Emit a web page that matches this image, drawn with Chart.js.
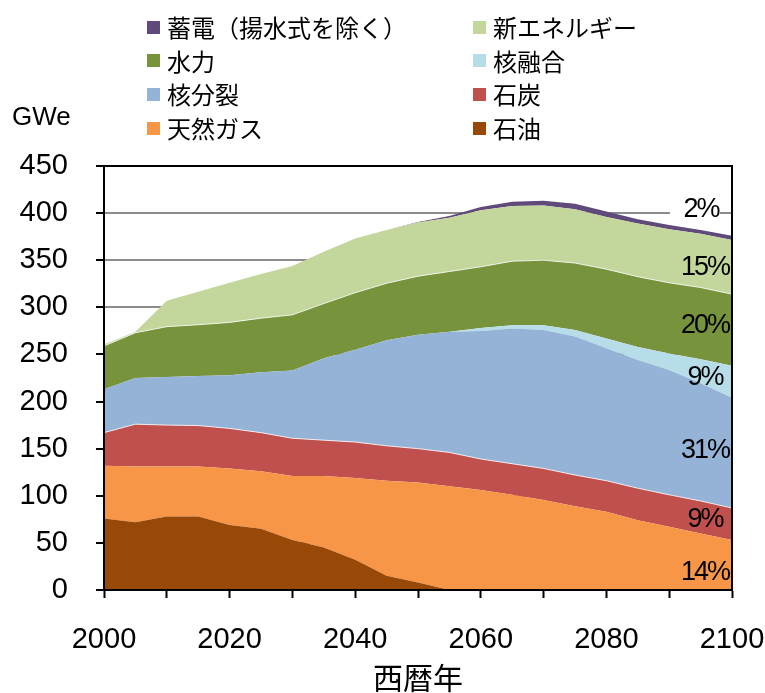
<!DOCTYPE html>
<html lang="ja">
<head>
<meta charset="utf-8">
<title>電源別発電設備容量の推移</title>
<script src="https://cdn.jsdelivr.net/npm/chart.js@4.4.1/dist/chart.umd.min.js"></script>
<style>
  html, body { margin: 0; padding: 0; background: #fff; }
  #wrap { position: relative; width: 765px; height: 693px; }
  #legend { position: absolute; left: 0; top: 0; width: 765px; height: 150px;
            font-family: "Noto Sans CJK JP", "Noto Sans", sans-serif; font-size: 24px; color: #000; }
  .item { position: absolute; display: flex; align-items: center; white-space: nowrap; line-height: 1; }
  .swatch { width: 13px; height: 13px; margin-right: 7px; }
  #unit { position: absolute; left: 12px; top: 101px; font: 26px "Liberation Sans", Arial, sans-serif; }
</style>
</head>
<body>
<div id="wrap">
  <canvas id="chart" width="765" height="693"></canvas>
  <div id="unit">GWe</div>
  <div id="legend"></div>
</div>
<script>
// ---- data (GWe) ----
const years = [2000, 2005, 2010, 2015, 2020, 2025, 2030, 2035, 2040, 2045, 2050,
               2055, 2060, 2065, 2070, 2075, 2080, 2085, 2090, 2095, 2100];

const oil       = [76, 72, 78, 78, 69, 65, 53, 45, 32, 15, 8, 0, 0, 0, 0, 0, 0, 0, 0, 0, 0];
const gas       = [56, 59, 53, 53, 60, 61, 68, 76, 87, 101, 106, 110, 106, 101, 95.5, 89, 83, 74, 67, 60, 53];
const coal      = [35, 45, 44, 43.5, 42.5, 41, 40, 38, 38, 37, 36, 36, 33, 33, 33.5, 33, 33, 34, 34, 34.5, 34];
const fission   = [46, 49, 51, 52.5, 56.5, 64, 72, 87, 98, 112, 121, 128, 136, 143.5, 147, 147, 140.6, 136, 132.5, 124.9, 117];
const fusion    = [0, 0, 0, 0, 0, 0, 0, 0, 0, 0, 0, 0, 3, 3.5, 5, 7, 10.4, 14, 17.5, 25.6, 34];
const hydro     = [46, 48, 53.5, 54.5, 56, 57.5, 59, 58, 60.5, 60.5, 62, 64, 65, 68, 69, 71, 73.5, 74.5, 75, 76, 76];
const newEnergy = [1.5, 1, 27.5, 35, 42, 47, 52, 55, 57.5, 56.5, 57, 57, 60, 58.6, 58, 57, 55.5, 56.5, 57, 57, 57.5];
const storage   = [0, 0, 0, 0, 0, 0, 0, 0, 0, 0, 0.5, 2, 3.5, 4.5, 5, 6, 5.6, 4.5, 4.5, 4, 4.5];

// stacking order, bottom to top
const seriesNames  = ['石油', '天然ガス', '石炭', '核分裂', '核融合', '水力', '新エネルギー', '蓄電(揚水式を除く)'];
const seriesValues = [oil, gas, coal, fission, fusion, hydro, newEnergy, storage];
const seriesColors = ['#984807', '#F79646', '#C0504D', '#95B3D7', '#B7DEE8', '#77933C', '#C3D69B', '#604A7B'];
const shareLabels  = ['', '14%', '9%', '31%', '9%', '20%', '15%', '2%'];   // share in 2100

const yTicks = [0, 50, 100, 150, 200, 250, 300, 350, 400, 450];
const xTickLabels = [2000, 2020, 2040, 2060, 2080, 2100];

// legend order (row by row, two columns)
const legendOrder = [7, 6, 5, 4, 3, 2, 1, 0];

// ---- HTML legend ----
const legendEl = document.getElementById('legend');
legendOrder.forEach((idx, n) => {
  const col = n % 2, row = Math.floor(n / 2);
  const it = document.createElement('div');
  it.className = 'item';
  it.style.left = (col === 0 ? 147 : 473) + 'px';
  it.style.top = (15 + row * 33.7) + 'px';
  it.innerHTML = `<span class="swatch" style="background:${seriesColors[idx]}"></span><span>${seriesNames[idx].replace('(', '（').replace(')', '）')}</span>`;
  legendEl.appendChild(it);
});

// frame + share labels drawn over the areas
const overlayPlugin = {
  id: 'overlay',
  afterDatasetsDraw(chart) {
    const { ctx, chartArea: a, scales: { y } } = chart;
    const last = years.length - 1;
    const nudge = [0, 8, -4, -2, -4, -4, 0, 0];
    ctx.save();
    ctx.strokeStyle = '#000';
    ctx.lineWidth = 2;
    ctx.beginPath();
    ctx.moveTo(a.left, a.bottom);
    ctx.lineTo(a.left, a.top);
    ctx.lineTo(a.right, a.top);
    ctx.lineTo(a.right, a.bottom);
    ctx.lineTo(a.left, a.bottom);
    ctx.stroke();

    ctx.font = '27px "Liberation Sans", Arial, sans-serif';
    ctx.letterSpacing = '-2px';
    ctx.textAlign = 'center';
    ctx.textBaseline = 'middle';
    let base = 0;
    seriesValues.forEach((vals, i) => {
      const v = vals[last];
      const mid = base + v / 2;
      base += v;
      if (!shareLabels[i]) return;
      let py = y.getPixelForValue(mid) + nudge[i];
      let px = a.right - 27;
      if (i === seriesValues.length - 1) {
        py = y.getPixelForValue(base) - 26;
        px = a.right - 31;
        ctx.fillStyle = '#fff';
        ctx.fillRect(a.right - 62, py - 12, 50, 22);
      }
      ctx.fillStyle = '#000';
      ctx.fillText(shareLabels[i], px, py);
    });
    ctx.restore();
  }
};

const tickFont = { family: '"Liberation Sans", Arial, sans-serif', size: 29 };

new Chart(document.getElementById('chart'), {
  type: 'line',
  data: {
    datasets: seriesValues.map((vals, i) => ({
      label: seriesNames[i],
      data: years.map((yr, k) => ({ x: yr, y: vals[k] })),
      backgroundColor: seriesColors[i],
      borderColor: (i === 2 || i === 5) ? 'rgba(255,255,255,0.8)' : seriesColors[i],
      borderWidth: (i === 2 || i === 5) ? 1 : 0,
      fill: i === 0 ? 'origin' : '-1',
      pointRadius: 0,
      tension: 0
    }))
  },
  options: {
    responsive: false,
    animation: false,
    layout: { padding: { top: 166, right: 33, bottom: 0, left: 0 } },
    plugins: { legend: { display: false }, tooltip: { enabled: false } },
    scales: {
      x: {
        type: 'linear',
        min: 2000,
        max: 2100,
        afterFit: s => { s.height = 103; s.paddingLeft = 0; s.paddingRight = 0; },
        afterBuildTicks: s => { s.ticks = years.filter(yr => yr % 10 === 0).map(v => ({ value: v })); },
        ticks: {
          autoSkip: false,
          maxRotation: 0,
          padding: 25,
          color: '#000',
          font: tickFont,
          callback: v => xTickLabels.includes(v) ? String(v) : ''
        },
        grid: { drawOnChartArea: false, drawTicks: true, tickLength: 8, tickColor: '#000', tickWidth: 2 },
        border: { color: '#000', width: 2 },
        title: {
          display: true,
          text: '西暦年',
          color: '#000',
          font: { family: '"Noto Sans CJK JP", sans-serif', size: 30, lineHeight: 1 },
          padding: { top: 0, bottom: 0 }
        }
      },
      y: {
        stacked: true,
        min: 0,
        max: 450,
        afterFit: s => { s.width = 104; s.paddingTop = 0; s.paddingBottom = 0; },
        afterBuildTicks: s => { s.ticks = yTicks.map(v => ({ value: v })); },
        ticks: { padding: 28, color: '#000', font: tickFont },
        grid: { color: '#8c8c8c', lineWidth: 2, tickLength: 8, tickColor: '#000', tickWidth: 2 },
        border: { color: '#000', width: 2 }
      }
    }
  },
  plugins: [overlayPlugin]
});
</script>
</body>
</html>
